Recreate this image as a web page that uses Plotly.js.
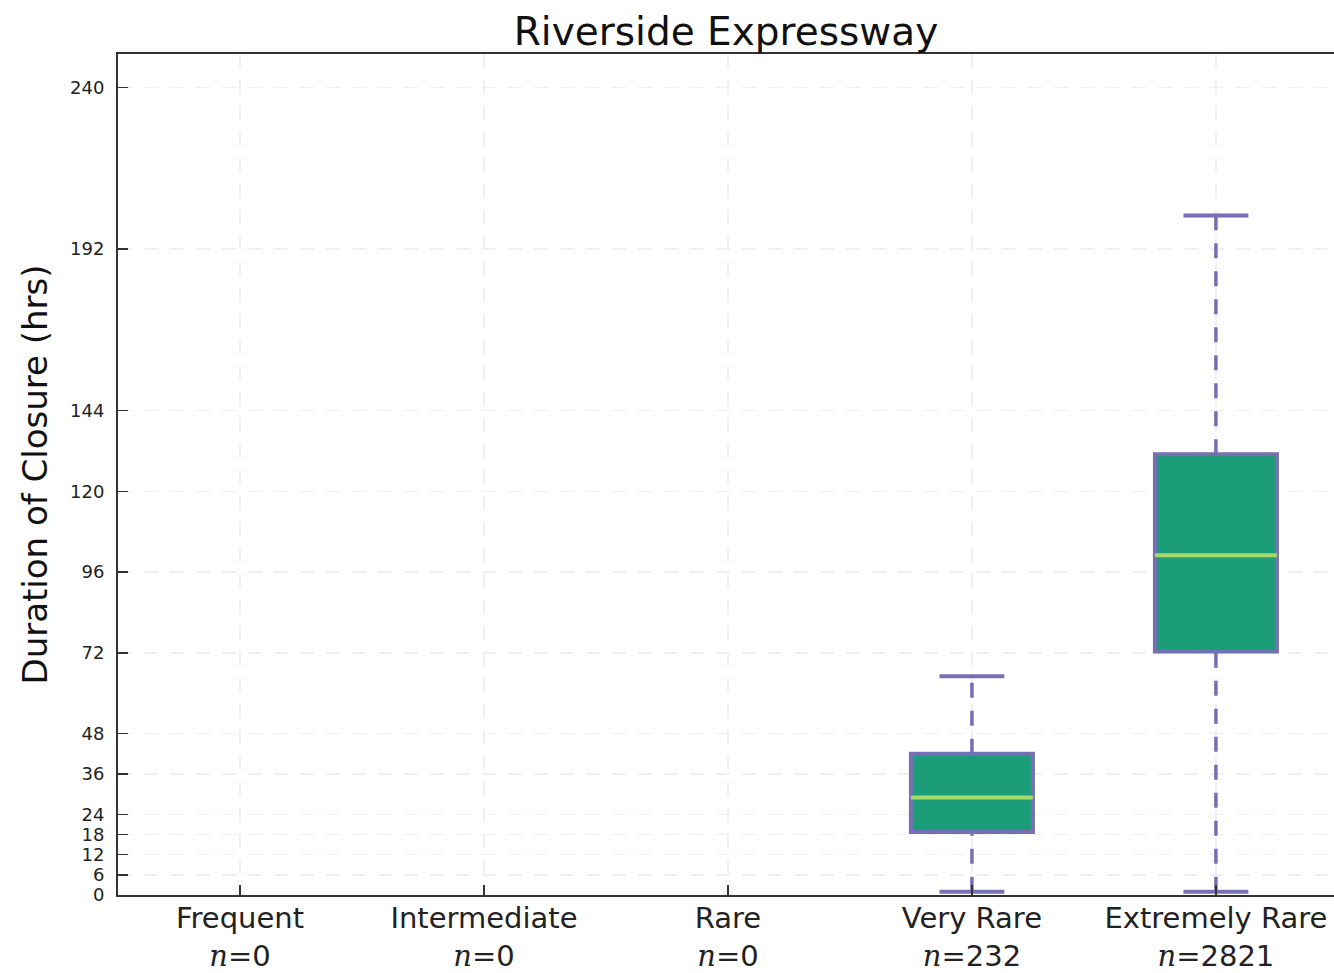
<!DOCTYPE html>
<html>
<head>
<meta charset="utf-8">
<script src="https://cdn.plot.ly/plotly-3.0.1.min.js"></script>
<style>html,body{margin:0;padding:0;background:#fff;}#chart{width:1334px;height:973px;}</style>
</head>
<body>
<div id="chart"></div>
<script>
// ---- data ----
var categories = ['Frequent', 'Intermediate', 'Rare', 'Very Rare', 'Extremely Rare'];
var counts = [0, 0, 0, 232, 2821];
var q1 = [null, null, null, 18.7, 72.4];
var medians = [null, null, null, 29, 101];
var q3 = [null, null, null, 42, 131];
var lowerWhisker = [null, null, null, 1, 1];
var upperWhisker = [null, null, null, 65, 202];
var yTicks = [0, 6, 12, 18, 24, 36, 48, 72, 96, 120, 144, 192, 240];

// ---- styling ----
var purple = '#7570b3', green = '#1b9e77', medGreen = '#a6d96a';
var boxHalf = 0.25, capHalf = 0.133;

var idx = [];
for (var i = 0; i < categories.length; i++) if (counts[i] > 0) idx.push(i);

var traces = [];
// whiskers (dashed) drawn first
idx.forEach(function (i) {
  traces.push({type: 'scatter', mode: 'lines', x: [i, i], y: [lowerWhisker[i], q1[i]],
    line: {color: purple, width: 3.5, dash: '15px,13px'}, hoverinfo: 'skip', showlegend: false});
  traces.push({type: 'scatter', mode: 'lines', x: [i, i], y: [q3[i], upperWhisker[i]],
    line: {color: purple, width: 3.5, dash: '15px,13px'}, hoverinfo: 'skip', showlegend: false});
  traces.push({type: 'scatter', mode: 'lines', x: [i - capHalf, i + capHalf], y: [lowerWhisker[i], lowerWhisker[i]],
    line: {color: purple, width: 4}, hoverinfo: 'skip', showlegend: false});
  traces.push({type: 'scatter', mode: 'lines', x: [i - capHalf, i + capHalf], y: [upperWhisker[i], upperWhisker[i]],
    line: {color: purple, width: 4}, hoverinfo: 'skip', showlegend: false});
});
// boxes
traces.push({
  type: 'box',
  x: idx,
  q1: idx.map(function (i) { return q1[i]; }),
  median: idx.map(function (i) { return medians[i]; }),
  q3: idx.map(function (i) { return q3[i]; }),
  lowerfence: idx.map(function (i) { return q1[i]; }),
  upperfence: idx.map(function (i) { return q3[i]; }),
  width: boxHalf * 2,
  whiskerwidth: 0,
  fillcolor: green,
  line: {color: purple, width: 4},
  boxpoints: false,
  showlegend: false
});
// medians
idx.forEach(function (i) {
  traces.push({type: 'scatter', mode: 'lines', x: [i - boxHalf, i + boxHalf], y: [medians[i], medians[i]],
    line: {color: medGreen, width: 4}, hoverinfo: 'skip', showlegend: false});
});

var tickText = categories.map(function (c, i) {
  return c + '<br><span style="font-family:\'DejaVu Serif\'"><i>n</i></span>=' + counts[i];
});

var layout = {
  width: 1334, height: 973,
  margin: {l: 118, r: 0, t: 54, b: 78},
  paper_bgcolor: '#ffffff', plot_bgcolor: '#ffffff',
  font: {family: 'DejaVu Sans', color: '#222'},
  showlegend: false,
  title: {text: 'Riverside Expressway', font: {size: 39, color: '#111'},
    x: 0.5, xref: 'paper', xanchor: 'center', y: 1 - 31 / 973, yref: 'container', yanchor: 'middle'},
  xaxis: {
    range: [-0.5, 4.484],
    tickvals: categories.map(function (c, i) { return i; }),
    ticktext: tickText,
    tickfont: {size: 29, color: '#222'},
    ticks: 'inside', ticklen: 10, tickwidth: 1.5, tickcolor: '#333',
    ticklabelstandoff: -4,
    showline: true, linecolor: '#333', linewidth: 2, mirror: true,
    showgrid: true, gridcolor: '#f0f0f0', gridwidth: 1.5, griddash: '14px,12px',
    zeroline: false, fixedrange: true
  },
  yaxis: {
    range: [0, 250],
    tickvals: yTicks,
    ticktext: yTicks.map(String),
    tickfont: {size: 18, color: '#222'},
    ticks: 'inside', ticklen: 10, tickwidth: 1.5, tickcolor: '#333',
    ticklabelstandoff: 8,
    showline: true, linecolor: '#333', linewidth: 2, mirror: false,
    showgrid: true, gridcolor: '#f0f0f0', gridwidth: 1.5, griddash: '14px,12px',
    zeroline: false, fixedrange: true,
    title: {text: 'Duration of Closure (hrs)', font: {size: 34, color: '#111'}, standoff: 12}
  }
};

Plotly.newPlot('chart', traces, layout, {displayModeBar: false, staticPlot: true});
</script>
</body>
</html>
